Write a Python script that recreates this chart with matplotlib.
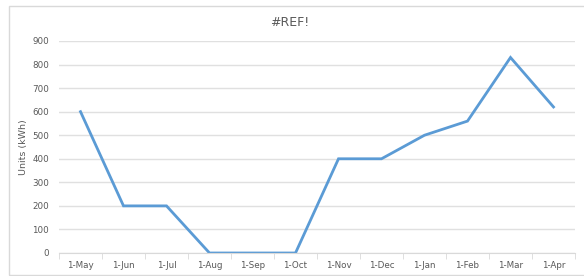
import matplotlib.pyplot as plt
from matplotlib.patches import Rectangle

months = ['1-May', '1-Jun', '1-Jul', '1-Aug', '1-Sep', '1-Oct',
          '1-Nov', '1-Dec', '1-Jan', '1-Feb', '1-Mar', '1-Apr']
units = [600, 200, 200, 0, 0, 0, 400, 400, 500, 560, 830, 620]
yticks = [0, 100, 200, 300, 400, 500, 600, 700, 800, 900]

W, H = 584, 276
fig = plt.figure(figsize=(W / 100, H / 100), dpi=100)

# chart outer border
fig.patches.append(Rectangle((9 / W, 1 / H), 1 - 9 / W + 0.01, (275 - 6) / H,
                             transform=fig.transFigure, fill=False,
                             edgecolor='#d9d9d9', linewidth=1))

ax = fig.add_axes([59 / W, 1 - 253 / H, (575 - 59) / W, (253 - 41) / H])

x = list(range(len(months)))
ax.plot(x, units, color='#5b9bd5', linewidth=2.0, solid_joinstyle='miter')

ax.set_xlim(-0.5, len(months) - 0.5)
ax.set_ylim(0, 900)
ax.set_yticks(yticks)
ax.set_xticks(x)
ax.set_xticklabels(months)
ax.set_xticks([i - 0.5 for i in range(len(months) + 1)], minor=True)

ax.grid(axis='y', color='#e0e0e0', linewidth=1)
ax.set_axisbelow(True)
for s in ['top', 'right', 'left']:
    ax.spines[s].set_visible(False)
ax.spines['bottom'].set_color('#d9d9d9')

ax.tick_params(axis='x', which='major', length=0, pad=6, labelsize=6.3,
               labelcolor='#595959')
ax.tick_params(axis='x', which='minor', length=4, color='#d9d9d9')
ax.tick_params(axis='y', length=0, pad=7, labelsize=6.3, labelcolor='#595959')

ax.set_ylabel('Units (kWh)', fontsize=6.8, color='#595959', labelpad=3)
fig.text(290 / W, 1 - 22 / H, '#REF!', ha='center', va='center',
         fontsize=9, color='#595959')

fig.savefig('out.png', dpi=100)
